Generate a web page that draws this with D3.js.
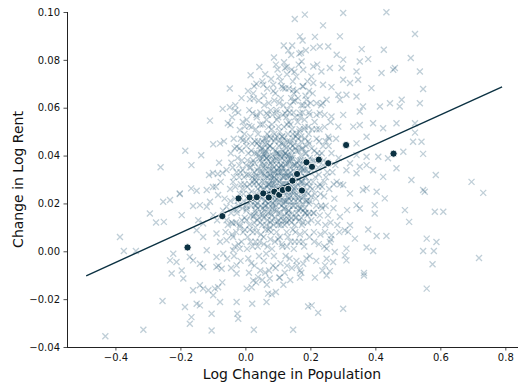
<!DOCTYPE html>
<html>
<head>
<meta charset="utf-8">
<script src="https://cdn.jsdelivr.net/npm/d3@7"></script>
<style>
  body { margin: 0; background: #fff; }
  svg text { font-family: "DejaVu Sans", sans-serif; }
</style>
</head>
<body>
<div id="chart"></div>
<script>
// metro areas: [log change in population, change in log rent]
const metroPoints = [
  // sparse outer points
  [0.016,0.0736],[-0.048,0.068],[0.034,0.070],[0.014,0.0636],[0.026,0.0638],[-0.070,0.0595],[-0.048,0.0602],
  [-0.032,0.0588],[-0.109,0.0546],[-0.054,0.0535],[-0.046,0.0528],[-0.017,0.0507],[-0.002,0.0521],[0.012,0.0524],
  [0.022,0.0577],[0.034,0.0570],[-0.099,0.0447],[-0.078,0.0451],[-0.185,0.0420],[-0.136,0.0401],[-0.166,0.0360],
  [-0.261,0.0351],[-0.112,0.0319],[-0.100,0.0327],[-0.085,0.0323],[-0.070,0.0327],[-0.167,0.0263],[-0.150,0.0253],
  [-0.202,0.0242],[-0.119,0.0256],[-0.100,0.0269],[-0.027,0.0437],[-0.007,0.0465],[-0.012,0.0420],
  [0.152,0.0971],[0.183,0.0989],[0.301,0.0996],[0.434,0.0999],[0.239,0.0944],[0.522,0.0908],[0.168,0.0898],
  [0.176,0.0881],[0.214,0.0896],[0.291,0.0898],[0.132,0.0839],[0.166,0.0826],[0.209,0.0850],[0.229,0.0856],
  [0.255,0.0856],[0.358,0.0845],[0.426,0.0842],[0.281,0.0821],[0.301,0.0801],[0.352,0.0793],[0.378,0.0803],
  [0.509,0.0808],[0.122,0.0766],[0.142,0.0759],[0.173,0.0793],[0.178,0.0759],[0.209,0.0772],[0.234,0.0751],
  [0.260,0.0766],[0.296,0.0766],[0.342,0.0751],[0.419,0.0745],[0.455,0.0759],[0.460,0.0766],[0.537,0.0751],
  [0.086,0.0696],[0.116,0.0682],[0.055,0.0696],[0.147,0.0675],[0.178,0.0689],[0.209,0.0703],[0.239,0.0696],
  [0.265,0.0686],[0.301,0.0717],[0.322,0.0703],[0.347,0.0717],[0.388,0.0682],[0.547,0.0678],[0.286,0.0654],
  [0.311,0.0654],[0.291,0.0633],[0.342,0.0647],[0.147,0.0626],[0.188,0.0633],[0.219,0.0619],[0.250,0.0633],
  [0.414,0.0605],[0.445,0.0619],[0.481,0.0633],[0.475,0.0605],[0.537,0.0619],[0.362,0.0605],[0.352,0.0584],
  [0.065,0.0577],[0.096,0.0591],[0.122,0.0577],[0.168,0.0577],[0.198,0.0570],[0.229,0.0577],[0.265,0.0563],
  [0.301,0.0570],[0.332,0.0521],[0.352,0.0528],[0.393,0.0535],[0.424,0.0514],[0.465,0.0535],[0.522,0.0535],
  [0.522,0.0496],[0.286,0.0521],[0.255,0.0479],[0.373,0.0479],[0.342,0.0451],[0.516,0.0458],[0.542,0.0458],
  [0.486,0.0416],[0.547,0.0407],[0.342,0.0402],[0.373,0.0395],[0.352,0.0353],[0.409,0.0395],[0.439,0.0389],
  [0.322,0.0368],[0.373,0.0360],[0.311,0.0339],[0.342,0.0326],[0.393,0.0339],[0.424,0.0311],[0.465,0.0347],
  [0.511,0.0298],[0.586,0.0319],[0.696,0.0290],[0.732,0.0244],[0.547,0.0256],[0.322,0.0242],[0.373,0.0263],
  [0.404,0.0249],[0.281,0.0290],[0.301,0.0277],
  [0.552,0.0249],[0.362,0.0256],[0.429,0.0221],[0.342,0.0193],[0.352,0.0179],[0.398,0.0193],[0.398,0.0158],
  [0.313,0.0172],[0.291,0.0144],[0.491,0.0172],[0.583,0.0165],[0.609,0.0165],[0.504,0.0123],[0.322,0.0109],
  [0.306,0.0088],[0.316,0.0081],[0.378,0.0091],[0.404,0.0064],[0.434,0.0064],[0.337,0.0053],[0.558,0.0053],
  [0.588,0.0039],[0.547,0.0001],[0.580,0.0001],[0.373,0.0016],[0.393,0.0001],[0.311,0.0011],[0.306,-0.0017],
  [0.311,-0.0038],[0.275,-0.0003],[0.250,-0.0031],[0.270,-0.0045],[0.245,-0.0059],[0.719,-0.0028],[0.576,-0.0054],
  [0.260,-0.0083],[0.250,-0.0101],[0.365,-0.0091],[0.365,-0.0101],[0.214,-0.0110],[0.168,-0.0110],[0.558,-0.0156],
  [0.070,-0.0177],[0.081,-0.0180],[0.065,-0.0212],[0.193,-0.0231],[0.204,-0.0226],[0.224,-0.0257],[0.301,-0.0240],
  [0.147,-0.0328],[0.106,-0.0110],[0.075,-0.0114],[0.178,-0.0052],[0.168,-0.0080],[0.250,0.0011],[0.265,0.0067],
  [0.260,0.0039],
  [-0.202,0.0239],[-0.253,0.0207],[-0.232,0.0214],[-0.196,0.0151],[-0.294,0.0158],[-0.275,0.0120],[-0.251,0.0123],
  [-0.386,0.0060],[-0.374,0.0001],[-0.337,0.0001],[-0.161,0.0189],[-0.140,0.0193],[-0.119,0.0186],[-0.084,0.0235],
  [-0.109,0.0207],[-0.099,0.0151],[-0.145,0.0130],[-0.130,0.0116],[-0.222,-0.0010],[-0.232,-0.0038],[-0.212,-0.0045],
  [-0.171,-0.0024],[-0.161,-0.0038],[-0.196,-0.0080],[-0.227,-0.0093],[-0.191,-0.0114],[-0.119,0.0004],[-0.089,-0.0024],
  [-0.068,-0.0010],[-0.140,-0.0052],[-0.130,-0.0066],[-0.089,-0.0066],[-0.073,-0.0073],[-0.027,-0.0059],[-0.027,-0.0093],
  [-0.140,-0.0142],[-0.130,-0.0156],[-0.161,-0.0163],[-0.114,-0.0163],[-0.094,-0.0156],[-0.099,-0.0184],[-0.150,-0.0219],
  [-0.140,-0.0226],[-0.186,-0.0233],[-0.166,-0.0275],[-0.171,-0.0303],[-0.255,-0.0208],[-0.104,-0.0261],[-0.104,-0.0331],
  [-0.027,-0.0212],[-0.025,-0.0261],[-0.022,-0.0282],[0.021,-0.0219],[0.026,-0.0328],[-0.314,-0.0328],[-0.431,-0.0355],
  [-0.078,-0.0212],[-0.084,-0.0150],[0.004,-0.0156],[0.019,-0.0150],[0.024,-0.0122],[0.039,-0.0108],[-0.038,0.0004],
  [-0.017,0.0011],[-0.150,0.0088],[-0.130,0.0060],[-0.089,0.0074],[-0.058,0.0046],[-0.038,0.0060],[-0.058,0.0130],
  [-0.038,0.0116],[-0.017,0.0102],[0.004,0.0130],[0.024,0.0144],[-0.058,0.0186],[-0.027,0.0172],[0.004,0.0179],
  [0.029,0.0193],
  // dense core
  [-0.012,0.064],[-0.031,0.061],[-0.041,0.056],[-0.008,0.054],[-0.022,0.058],[-0.036,0.047],[-0.018,0.043],
  [-0.003,0.049],[-0.045,0.041],[-0.043,0.037],[-0.027,0.033],[-0.011,0.038],[-0.004,0.031],[-0.035,0.031],
  [-0.019,0.036],[-0.047,0.026],[-0.032,0.022],[-0.014,0.028],[-0.006,0.024],[-0.038,0.029],[-0.024,0.021],
  [-0.044,0.016],[-0.029,0.012],[-0.009,0.018],[-0.017,0.011],[-0.002,0.014],[-0.041,0.007],[-0.021,0.003],
  [-0.007,0.008],[-0.033,0.002],[-0.015,-0.004],[-0.044,-0.007],
  [0.043,0.077],[0.008,0.067],[0.041,0.063],[0.027,0.069],[0.004,0.055],[0.019,0.052],[0.046,0.058],[0.032,0.051],
  [0.003,0.044],[0.015,0.048],[0.028,0.041],[0.039,0.046],[0.047,0.042],[0.021,0.045],[0.002,0.036],[0.011,0.032],
  [0.024,0.038],[0.036,0.034],[0.044,0.039],[0.017,0.035],[0.031,0.031],[0.048,0.033],[0.006,0.027],[0.014,0.021],
  [0.023,0.029],[0.033,0.024],[0.041,0.028],[0.048,0.022],[0.019,0.025],[0.037,0.020],[0.003,0.017],[0.012,0.011],
  [0.026,0.015],[0.038,0.018],[0.046,0.012],[0.031,0.010],[0.018,0.019],[0.007,0.006],[0.022,0.002],[0.035,0.008],
  [0.044,0.004],[0.014,0.009],[0.009,-0.003],[0.028,-0.006],[0.042,-0.002],[0.033,-0.013],
  [0.088,0.081],[0.061,0.074],[0.094,0.078],[0.072,0.062],[0.086,0.067],[0.057,0.065],[0.053,0.053],[0.069,0.057],
  [0.081,0.051],[0.097,0.055],[0.078,0.059],[0.052,0.046],[0.063,0.042],[0.074,0.048],[0.085,0.043],[0.092,0.047],
  [0.058,0.041],[0.099,0.041],[0.068,0.045],[0.051,0.037],[0.059,0.032],[0.066,0.039],[0.073,0.034],[0.082,0.038],
  [0.089,0.031],[0.096,0.036],[0.056,0.035],[0.077,0.030],[0.093,0.039],[0.054,0.026],[0.062,0.021],[0.071,0.028],
  [0.079,0.023],[0.087,0.027],[0.095,0.022],[0.058,0.029],[0.084,0.020],[0.067,0.024],[0.091,0.029],[0.053,0.015],
  [0.064,0.011],[0.072,0.018],[0.081,0.013],[0.089,0.017],[0.098,0.012],[0.059,0.019],[0.076,0.010],[0.056,0.006],
  [0.068,0.002],[0.079,0.008],[0.091,0.004],[0.062,0.009],[0.057,-0.004],[0.073,-0.008],[0.088,-0.002],[0.066,-0.014],
  [0.094,-0.017],
  [0.118,0.086],[0.141,0.082],[0.104,0.073],[0.127,0.077],[0.146,0.071],[0.109,0.064],[0.123,0.068],[0.138,0.061],
  [0.149,0.066],[0.102,0.052],[0.115,0.057],[0.128,0.053],[0.136,0.058],[0.144,0.051],[0.103,0.044],[0.112,0.048],
  [0.121,0.041],[0.129,0.046],[0.137,0.043],[0.146,0.049],[0.117,0.045],[0.142,0.040],[0.101,0.033],[0.108,0.038],
  [0.116,0.031],[0.124,0.036],[0.131,0.032],[0.139,0.039],[0.147,0.034],[0.113,0.035],[0.135,0.037],[0.144,0.030],
  [0.104,0.024],[0.111,0.028],[0.119,0.021],[0.126,0.026],[0.134,0.022],[0.141,0.029],[0.148,0.024],[0.115,0.025],
  [0.137,0.027],[0.102,0.016],[0.109,0.011],[0.118,0.018],[0.125,0.013],[0.133,0.017],[0.142,0.012],[0.149,0.019],
  [0.121,0.015],[0.106,0.006],[0.114,0.002],[0.127,0.008],[0.139,0.004],[0.146,0.009],[0.108,-0.005],[0.124,-0.002],
  [0.143,-0.007],[0.117,-0.014],[0.138,-0.012],
  [0.186,0.084],[0.157,0.073],[0.191,0.071],[0.162,0.064],[0.178,0.061],[0.196,0.067],[0.153,0.056],[0.167,0.051],
  [0.182,0.055],[0.194,0.052],[0.151,0.045],[0.163,0.042],[0.172,0.048],[0.184,0.041],[0.193,0.046],[0.158,0.049],
  [0.152,0.036],[0.161,0.032],[0.169,0.038],[0.177,0.034],[0.186,0.031],[0.195,0.037],[0.164,0.035],[0.154,0.027],
  [0.163,0.022],[0.171,0.029],[0.181,0.024],[0.189,0.028],[0.198,0.021],[0.176,0.020],[0.156,0.014],[0.166,0.018],
  [0.174,0.011],[0.183,0.016],[0.192,0.012],[0.152,0.004],[0.168,0.007],[0.181,0.002],[0.197,0.006],[0.159,-0.006],
  [0.188,-0.003],
  [0.221,0.078],[0.207,0.066],[0.238,0.062],[0.213,0.054],[0.244,0.057],[0.228,0.051],[0.204,0.043],[0.219,0.047],
  [0.235,0.041],[0.247,0.046],[0.203,0.034],[0.214,0.038],[0.226,0.032],[0.239,0.036],[0.248,0.031],[0.206,0.026],
  [0.217,0.022],[0.229,0.028],[0.242,0.023],[0.209,0.016],[0.223,0.012],[0.236,0.018],[0.246,0.011],[0.212,0.004],
  [0.231,0.007],[0.243,0.002],[0.218,-0.004],[0.237,-0.008],
  [0.262,0.054],[0.256,0.044],[0.279,0.047],[0.253,0.037],[0.268,0.033],[0.287,0.039],[0.258,0.026],[0.274,0.022],
  [0.292,0.028],[0.254,0.015],[0.271,0.018],[0.283,0.011],[0.263,0.005],[0.289,0.008],
  [-0.066,0.046],[-0.081,0.037],[-0.058,0.034],[-0.091,0.027],[-0.064,0.022],[-0.076,0.029],[-0.087,0.013],
  [-0.069,0.017],[-0.054,0.011],[-0.078,0.004],[-0.061,0.008],[-0.083,-0.006],[-0.056,-0.003],[-0.071,-0.013],
  // core, second pass
  [0.027,0.012],[0.042,0.014],[0.031,0.017],[0.048,0.019],[0.036,0.013],[0.029,0.021],[0.044,0.023],[0.038,0.026],
  [0.026,0.028],[0.047,0.027],[0.033,0.032],[0.041,0.035],[0.028,0.037],[0.046,0.038],[0.035,0.041],[0.043,0.044],
  [0.029,0.046],[0.039,0.049],[0.032,0.016],[0.045,0.031],[0.037,0.022],[0.027,0.033],[0.049,0.043],[0.034,0.029],
  [0.052,0.011],[0.068,0.013],[0.057,0.017],[0.071,0.016],[0.061,0.021],[0.054,0.023],[0.073,0.024],[0.066,0.027],
  [0.051,0.029],[0.059,0.031],[0.072,0.032],[0.064,0.034],[0.055,0.036],[0.069,0.038],[0.062,0.041],[0.053,0.043],
  [0.074,0.044],[0.058,0.047],[0.067,0.049],[0.056,0.014],[0.063,0.019],[0.070,0.028],[0.052,0.033],[0.065,0.039],
  [0.060,0.026],[0.073,0.036],[0.057,0.040],[0.068,0.022],
  [0.077,0.012],[0.091,0.014],[0.083,0.018],[0.096,0.017],[0.079,0.021],[0.088,0.023],[0.099,0.022],[0.076,0.026],
  [0.085,0.028],[0.094,0.027],[0.080,0.031],[0.092,0.033],[0.087,0.035],[0.078,0.037],[0.097,0.038],[0.084,0.040],
  [0.093,0.042],[0.076,0.044],[0.089,0.046],[0.098,0.048],[0.081,0.015],[0.095,0.030],[0.086,0.019],[0.079,0.034],
  [0.090,0.038],[0.082,0.025],[0.097,0.025],[0.088,0.031],
  [0.102,0.011],[0.116,0.013],[0.108,0.016],[0.121,0.018],[0.104,0.020],[0.113,0.022],[0.124,0.021],[0.101,0.025],
  [0.110,0.027],[0.119,0.026],[0.106,0.030],[0.117,0.031],[0.123,0.033],[0.103,0.035],[0.112,0.036],[0.120,0.038],
  [0.107,0.040],[0.115,0.042],[0.122,0.044],[0.104,0.046],[0.114,0.048],[0.109,0.014],[0.118,0.024],[0.101,0.032],
  [0.124,0.028],[0.111,0.039],[0.105,0.023],[0.119,0.035],
  [0.127,0.012],[0.141,0.014],[0.133,0.017],[0.146,0.019],[0.129,0.021],[0.138,0.023],[0.149,0.022],[0.126,0.026],
  [0.135,0.028],[0.144,0.027],[0.130,0.031],[0.142,0.032],[0.137,0.035],[0.128,0.037],[0.147,0.036],[0.134,0.040],
  [0.143,0.042],[0.126,0.043],[0.139,0.045],[0.148,0.047],[0.131,0.015],[0.145,0.029],[0.136,0.019],[0.127,0.033],
  [0.140,0.038],[0.132,0.025],[0.148,0.025],[0.138,0.030],
  [0.152,0.011],[0.166,0.013],[0.158,0.016],[0.171,0.018],[0.154,0.021],[0.163,0.023],[0.174,0.022],[0.151,0.026],
  [0.160,0.028],[0.169,0.027],[0.156,0.031],[0.167,0.033],[0.173,0.035],[0.153,0.036],[0.162,0.038],[0.170,0.040],
  [0.157,0.042],[0.165,0.044],[0.172,0.046],[0.155,0.048],[0.164,0.017],[0.159,0.033],[0.168,0.025],[0.174,0.029],
  [0.177,0.012],[0.191,0.015],[0.183,0.018],[0.196,0.020],[0.179,0.023],[0.188,0.025],[0.199,0.027],[0.176,0.029],
  [0.185,0.031],[0.194,0.033],[0.180,0.036],[0.192,0.038],[0.187,0.041],[0.178,0.043],[0.197,0.045],[0.184,0.047],
  [0.190,0.021],[0.182,0.034],[0.195,0.029],[0.186,0.016],
  [0.203,0.013],[0.218,0.019],[0.231,0.024],[0.208,0.029],[0.224,0.035],[0.241,0.038],[0.212,0.042],[0.227,0.046],
  [0.205,0.051],[0.236,0.027],[0.247,0.019],[0.215,0.031],[0.229,0.015],[0.252,0.033],[0.265,0.041],[0.272,0.028],
  [0.258,0.047],[0.244,0.052],[0.219,0.057],[0.233,0.061],[0.201,0.062],[0.211,0.008],[0.226,0.003],[0.245,0.008],
  [0.262,0.012],[0.277,0.036],[0.214,0.024],[0.239,0.044],[0.206,0.036],[0.221,0.041],
  [0.012,0.059],[0.035,0.056],[0.058,0.061],[0.083,0.057],[0.104,0.062],[0.129,0.059],[0.153,0.063],[0.176,0.058],
  [0.191,0.061],[0.024,0.066],[0.067,0.068],[0.112,0.069],[0.158,0.067],[0.185,0.065],[0.046,0.053],[0.071,0.052],
  [0.096,0.058],[0.134,0.054],[0.168,0.056],[0.119,0.052],[0.141,0.064],[0.089,0.063],[0.052,0.071],[0.128,0.074],
  [0.164,0.078],[0.099,0.076],[0.079,0.072],
  [-0.035,-0.002],[-0.012,0.004],[0.005,0.001],[0.018,-0.005],[0.031,0.004],[0.048,0.007],[0.064,-0.001],[0.077,0.005],
  [0.096,0.008],[0.112,0.003],[0.131,0.006],[0.149,0.001],[0.165,0.004],[0.183,0.008],[0.198,-0.002],[0.046,-0.008],
  [0.085,-0.006],[0.121,-0.009],[0.157,-0.004],[0.023,0.008],[0.071,0.009],[0.136,-0.003],[0.104,-0.011],[0.052,-0.012],
  [0.172,-0.009],[0.011,-0.009],
  [-0.046,0.021],[-0.031,0.027],[-0.017,0.024],[-0.003,0.028],[0.011,0.024],[0.021,0.031],[-0.039,0.035],[-0.024,0.039],
  [-0.008,0.034],[0.006,0.038],[0.018,0.042],[-0.033,0.043],[-0.014,0.047],[0.003,0.046],[-0.042,0.012],[-0.026,0.016],
  [-0.011,0.013],[0.004,0.019],[0.016,0.015],[-0.019,0.031],[0.009,0.041],[-0.036,0.018],[0.013,0.035],[-0.005,0.021],
  // core, third pass
  [0.033,0.019],[0.047,0.025],[0.029,0.030],[0.041,0.040],[0.036,0.045],[0.049,0.016],
  [0.054,0.018],[0.063,0.015],[0.071,0.020],[0.058,0.024],[0.066,0.031],[0.074,0.028],[0.053,0.039],[0.061,0.036],
  [0.069,0.043],[0.075,0.040],[0.059,0.045],[0.064,0.047],
  [0.078,0.016],[0.087,0.011],[0.094,0.019],[0.081,0.024],[0.092,0.026],[0.077,0.032],[0.086,0.033],[0.098,0.034],
  [0.083,0.036],[0.095,0.041],[0.079,0.047],[0.089,0.049],[0.091,0.021],[0.084,0.029],
  [0.103,0.013],[0.112,0.019],[0.121,0.011],[0.107,0.022],[0.116,0.028],[0.123,0.025],[0.104,0.029],[0.113,0.033],
  [0.121,0.031],[0.109,0.036],[0.118,0.040],[0.102,0.041],[0.124,0.041],[0.111,0.045],[0.119,0.047],[0.106,0.050],
  [0.117,0.020],[0.108,0.033],
  [0.128,0.016],[0.136,0.013],[0.145,0.016],[0.131,0.023],[0.141,0.021],[0.148,0.031],[0.129,0.028],[0.139,0.033],
  [0.133,0.038],[0.145,0.039],[0.127,0.040],[0.136,0.046],[0.146,0.044],[0.131,0.049],[0.142,0.025],[0.134,0.031],
  [0.153,0.014],[0.161,0.019],[0.172,0.014],[0.157,0.024],[0.167,0.021],[0.152,0.031],[0.164,0.030],[0.171,0.033],
  [0.158,0.037],[0.168,0.036],[0.154,0.043],[0.162,0.047],[0.174,0.043],[0.166,0.050],
  [0.178,0.017],[0.187,0.021],[0.196,0.016],[0.181,0.027],[0.193,0.024],[0.189,0.034],[0.198,0.039],[0.177,0.038],
  [0.186,0.044],[0.195,0.049],[0.181,0.051],
  [0.211,0.016],[0.224,0.027],[0.233,0.019],[0.209,0.038],[0.228,0.040],[0.219,0.051],[0.243,0.029],[0.202,0.023],
  [0.082,0.053],[0.101,0.056],[0.117,0.061],[0.126,0.056],[0.139,0.053],[0.148,0.058],[0.161,0.054],[0.172,0.061],
  [0.183,0.052],[0.109,0.071],[0.134,0.068],[0.151,0.075],[0.176,0.069],[0.196,0.058],[0.065,0.055],[0.092,0.066],
  [0.119,0.079],[0.144,0.086],[0.171,0.083],[0.203,0.073],
  [-0.021,0.019],[-0.009,0.026],[0.004,0.032],[0.013,0.028],[-0.015,0.033],[0.007,0.022],[0.019,0.037],[-0.028,0.008],
  [-0.002,0.009],[0.016,0.004],[0.038,0.002],[0.057,0.003],[0.082,0.001],[0.101,0.005],[0.128,0.002],[0.154,0.008],
  [0.177,0.004],[0.093,-0.007],[0.061,-0.009],[0.128,-0.006]
];

// binned means
const binX = [-0.178,-0.071,-0.021,0.013,0.035,0.055,0.072,0.089,0.104,0.115,0.132,0.145,0.159,0.174,0.188,0.205,0.226,0.255,0.310,0.456];
const binY = [0.0016,0.0147,0.0221,0.0225,0.0226,0.0242,0.0225,0.0249,0.0236,0.0256,0.0261,0.0295,0.0323,0.0254,0.0372,0.0353,0.0383,0.0368,0.0444,0.0408];

// OLS fit
const fitRange = [-0.49, 0.79];
const fitIntercept = 0.0200;
const fitSlope = 0.0617;

const xTicks = [-0.4,-0.2,0.0,0.2,0.4,0.6,0.8];
const yTicks = [-0.04,-0.02,0.00,0.02,0.04,0.06,0.08,0.10];

const width = 519, height = 385;
const margin = {top: 12, right: 1, bottom: 38, left: 67};
const navy = '#0b3142';

const svg = d3.select('#chart').append('svg')
  .attr('width', width)
  .attr('height', height);

const x = d3.scaleLinear().domain([-0.549, 0.839]).range([margin.left, width - margin.right]);
const y = d3.scaleLinear().domain([-0.04, 0.10]).range([height - margin.bottom, margin.top]);

const fmtMinus = f => d => f(d).replace('-', '\u2212');

const gx = svg.append('g')
  .attr('transform', 'translate(0,' + (height - margin.bottom) + ')')
  .call(d3.axisBottom(x).tickValues(xTicks).tickFormat(fmtMinus(d3.format('.1f'))).tickSize(3.5).tickPadding(3.5));
const gy = svg.append('g')
  .attr('transform', 'translate(' + margin.left + ',0)')
  .call(d3.axisLeft(y).tickValues(yTicks).tickFormat(fmtMinus(d3.format('.2f'))).tickSize(3.5).tickPadding(3.5));

[gx, gy].forEach(g => {
  g.select('.domain').attr('stroke', '#222').attr('stroke-width', 1);
  g.selectAll('.tick line').attr('stroke', '#222').attr('stroke-width', 0.8);
  g.selectAll('.tick text').attr('fill', '#111').style('font-size', '10px').style('font-family', 'DejaVu Sans');
});
gx.select('.domain').attr('d', 'M' + margin.left + ',0.5H' + (width - margin.right));
gy.select('.domain').attr('d', 'M0.5,' + (height - margin.bottom) + 'V' + margin.top);

// x markers
const s = 3;
svg.append('g')
  .selectAll('path')
  .data(metroPoints)
  .enter()
  .append('path')
  .attr('d', d => {
    const cx = x(d[0]), cy = y(d[1]);
    return 'M' + (cx - s) + ',' + (cy - s) + 'L' + (cx + s) + ',' + (cy + s) +
           'M' + (cx - s) + ',' + (cy + s) + 'L' + (cx + s) + ',' + (cy - s);
  })
  .attr('stroke', '#1a5070')
  .attr('stroke-opacity', 0.28)
  .attr('stroke-width', 1.3)
  .attr('fill', 'none');

// fit line
svg.append('line')
  .attr('x1', x(fitRange[0]))
  .attr('y1', y(fitIntercept + fitSlope * fitRange[0]))
  .attr('x2', x(fitRange[1]))
  .attr('y2', y(fitIntercept + fitSlope * fitRange[1]))
  .attr('stroke', navy)
  .attr('stroke-width', 1.4);

// bin dots
svg.append('g')
  .selectAll('circle')
  .data(binX.map((d, i) => [d, binY[i]]))
  .enter()
  .append('circle')
  .attr('cx', d => x(d[0]))
  .attr('cy', d => y(d[1]))
  .attr('r', 3.6)
  .attr('fill', navy)
  .attr('stroke', '#fff')
  .attr('stroke-width', 0.9);

svg.append('text')
  .attr('x', 292)
  .attr('y', 379)
  .attr('text-anchor', 'middle')
  .style('font-size', '14px')
  .attr('fill', '#111')
  .text('Log Change in Population');

svg.append('text')
  .attr('transform', 'translate(23,' + ((margin.top + height - margin.bottom) / 2) + ') rotate(-90)')
  .attr('text-anchor', 'middle')
  .style('font-size', '14px')
  .attr('fill', '#111')
  .text('Change in Log Rent');
</script>
</body>
</html>
